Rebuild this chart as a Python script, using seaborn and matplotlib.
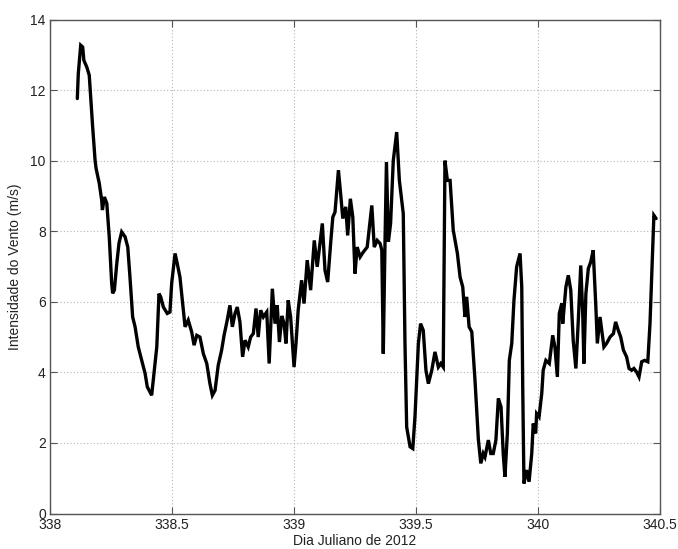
import numpy as np
import pandas as pd
import matplotlib
matplotlib.use("Agg")
import matplotlib.pyplot as plt
import seaborn as sns

# Julian day (2012) and wind speed (m/s)
dia = [
    338.112, 338.116, 338.126, 338.134, 338.139, 338.151, 338.161, 338.167, 338.175, 338.185,
    338.189, 338.202, 338.212, 338.215, 338.223, 338.233, 338.243, 338.253, 338.257, 338.264,
    338.274, 338.283, 338.294, 338.308, 338.319, 338.328, 338.339, 338.349, 338.362, 338.376,
    338.390, 338.399, 338.410, 338.417, 338.431, 338.438, 338.447, 338.454, 338.465, 338.481,
    338.492, 338.499, 338.513, 338.522, 338.533, 338.554, 338.567, 338.581, 338.591, 338.602,
    338.615, 338.629, 338.643, 338.656, 338.666, 338.677, 338.690, 338.704, 338.714, 338.727,
    338.738, 338.748, 338.759, 338.768, 338.779, 338.790, 338.800, 338.813, 338.823, 338.834,
    338.845, 338.854, 338.864, 338.875, 338.889, 338.899, 338.912, 338.923, 338.932, 338.941,
    338.951, 338.960, 338.968, 338.977, 338.987, 339.001, 339.009, 339.018, 339.032, 339.042,
    339.055, 339.069, 339.084, 339.096, 339.117, 339.128, 339.139, 339.151, 339.160, 339.169,
    339.183, 339.192, 339.201, 339.213, 339.221, 339.232, 339.242, 339.251, 339.260, 339.272,
    339.285, 339.301, 339.320, 339.330, 339.342, 339.354, 339.361, 339.367, 339.374, 339.380,
    339.388, 339.397, 339.408, 339.422, 339.433, 339.449, 339.456, 339.463, 339.477, 339.488,
    339.497, 339.511, 339.520, 339.531, 339.542, 339.552, 339.566, 339.579, 339.593, 339.603,
    339.613, 339.620, 339.630, 339.641, 339.654, 339.671, 339.682, 339.693, 339.702, 339.709,
    339.719, 339.730, 339.743, 339.757, 339.767, 339.777, 339.784, 339.798, 339.808, 339.818,
    339.829, 339.839, 339.850, 339.859, 339.866, 339.876, 339.884, 339.894, 339.903, 339.914,
    339.928, 339.935, 339.939, 339.944, 339.955, 339.965, 339.976, 339.982, 339.992, 339.996,
    340.006, 340.017, 340.023, 340.034, 340.048, 340.062, 340.071, 340.081, 340.089, 340.099,
    340.103, 340.116, 340.126, 340.136, 340.146, 340.157, 340.167, 340.177, 340.185, 340.190,
    340.198, 340.208, 340.218, 340.228, 340.239, 340.245, 340.256, 340.263, 340.272, 340.283,
    340.297, 340.311, 340.320, 340.331, 340.341, 340.352, 340.365, 340.375, 340.386, 340.395,
    340.406, 340.416, 340.427, 340.439, 340.452, 340.461, 340.470, 340.477, 340.486,
]
vento = [
    11.76, 12.46, 13.27, 13.22, 12.84, 12.65, 12.42, 11.80, 10.95, 10.00,
    9.78, 9.36, 8.88, 8.60, 8.97, 8.79, 7.84, 6.52, 6.24, 6.33,
    7.09, 7.66, 7.98, 7.84, 7.55, 6.70, 5.57, 5.29, 4.72, 4.34,
    3.97, 3.59, 3.44, 3.35, 4.25, 4.72, 6.23, 6.14, 5.85, 5.67,
    5.71, 6.52, 7.37, 7.08, 6.70, 5.29, 5.48, 5.15, 4.77, 5.05,
    5.00, 4.53, 4.25, 3.68, 3.35, 3.49, 4.20, 4.63, 5.05, 5.48,
    5.90, 5.29, 5.67, 5.85, 5.43, 4.44, 4.91, 4.72, 5.00, 5.10,
    5.81, 5.00, 5.76, 5.57, 5.71, 4.25, 6.37, 5.38, 5.90, 4.86,
    5.60, 5.38, 4.82, 6.04, 5.57, 4.15, 4.82, 5.76, 6.61, 5.95,
    7.18, 6.33, 7.74, 6.99, 8.22, 6.89, 6.56, 7.65, 8.40, 8.54,
    9.73, 9.07, 8.36, 8.69, 7.88, 8.92, 8.40, 6.80, 7.55, 7.27,
    7.41, 7.55, 8.73, 7.55, 7.74, 7.65, 7.46, 4.53, 7.65, 9.96,
    7.70, 8.22, 10.00, 10.81, 9.44, 8.50, 4.82, 2.45, 1.89, 1.84,
    2.74, 4.82, 5.38, 5.19, 4.06, 3.68, 4.06, 4.58, 4.15, 4.25,
    4.15, 10.00, 9.44, 9.44, 8.03, 7.37, 6.70, 6.42, 5.57, 6.14,
    5.29, 5.15, 3.80, 2.10, 1.42, 1.70, 1.60, 2.08, 1.70, 1.70,
    2.08, 3.26, 3.02, 1.70, 1.04, 2.27, 4.34, 4.82, 6.04, 6.99,
    7.37, 6.42, 3.59, 0.85, 1.23, 0.90, 1.70, 2.55, 2.27, 2.83,
    2.74, 3.40, 4.06, 4.34, 4.25, 5.05, 4.72, 3.87, 5.67, 5.95,
    5.38, 6.42, 6.75, 6.33, 4.91, 4.11, 5.48, 7.03, 5.67, 4.25,
    6.23, 6.94, 7.13, 7.46, 5.85, 4.82, 5.57, 5.19, 4.72, 4.82,
    5.00, 5.10, 5.43, 5.19, 5.00, 4.63, 4.44, 4.11, 4.06, 4.11,
    4.01, 3.87, 4.30, 4.34, 4.30, 5.38, 7.08, 8.45, 8.36,
]

x_ticks = [338, 338.5, 339, 339.5, 340, 340.5]
x_tick_labels = ["338", "338.5", "339", "339.5", "340", "340.5"]
y_ticks = [0, 2, 4, 6, 8, 10, 12, 14]

df = pd.DataFrame({"dia": dia, "vento": vento})

sns.set_theme(style="white")
plt.rcParams["font.family"] = ["Liberation Sans", "DejaVu Sans"]

fig = plt.figure(figsize=(6.78, 5.49), dpi=100)
ax = fig.add_axes([50 / 678, 1 - 513.5 / 549, 609.5 / 678, 494 / 549])

sns.lineplot(data=df, x="dia", y="vento", ax=ax, sort=False, estimator=None,
             color="black", linewidth=2.4, solid_joinstyle="miter")

ax.set_xlim(338, 340.5)
ax.set_ylim(0, 14)
ax.set_xticks(x_ticks)
ax.set_xticklabels(x_tick_labels)
ax.set_yticks(y_ticks)

ax.grid(True, color="#b5b5b5", linestyle=(0, (1, 2)), linewidth=0.8)
for s in ax.spines.values():
    s.set_color("#555555")
    s.set_linewidth(1.0)
    s.set_visible(True)

ax.tick_params(axis="both", which="both", direction="in", length=5, width=0.8,
               color="#555555", labelsize=10, labelcolor="#222222",
               top=True, right=True, bottom=True, left=True, pad=3)

ax.set_xlabel("Dia Juliano de 2012", fontsize=10, color="#222222", labelpad=2)
ax.set_ylabel("Intensidade do Vento (m/s)", fontsize=10, color="#222222", labelpad=6)

fig.savefig("out.png", dpi=100, facecolor="white")
